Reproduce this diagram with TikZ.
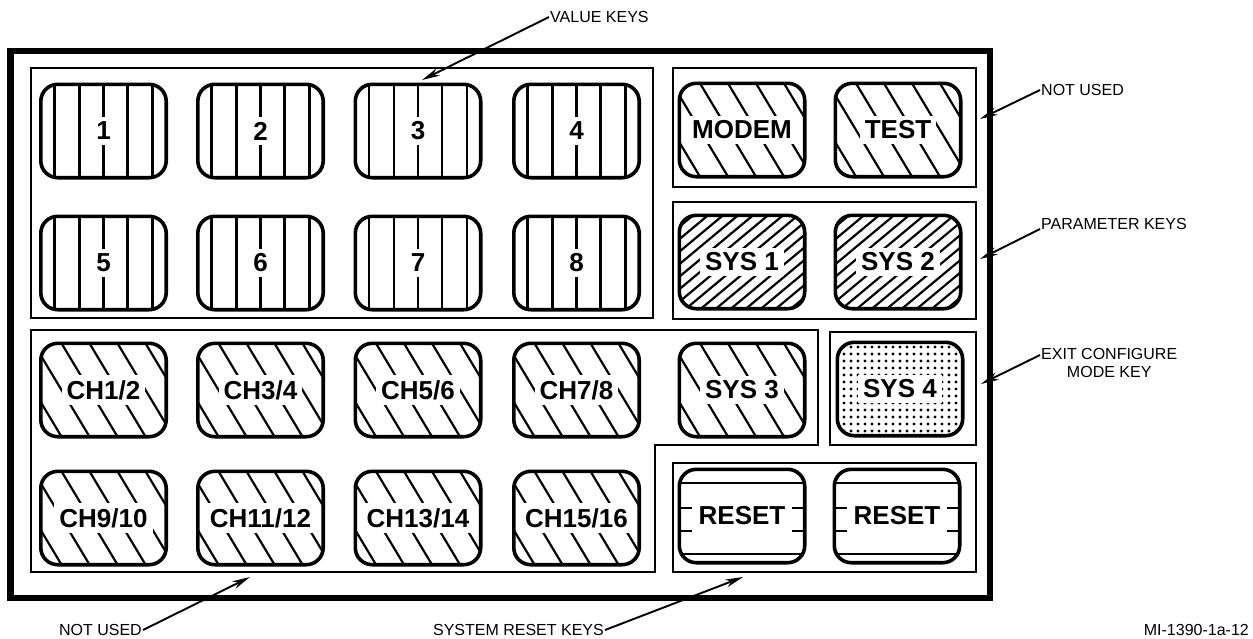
\documentclass[tikz,border=0pt]{standalone}
\usepackage{fontspec}
\setmainfont{Liberation Sans}
\usetikzlibrary{arrows.meta}
\tikzset{
  frame/.style={line width=6.5pt},
  panel/.style={line width=2.2pt},
  keybox/.style={rectangle, minimum width=125pt, minimum height=93pt, inner sep=0pt},
  keyline/.style={line width=3.6pt, rounded corners=17pt},
  hatch/.style={line width=2.2pt},
  keytext/.style={font=\fontsize{26}{28}\selectfont\bfseries, fill=white, inner sep=5pt},
  lbl/.style={font=\fontsize{16}{18}\selectfont, inner sep=1pt},
  arr/.style={line width=1.9pt, -{Stealth[length=18pt,width=8pt]}},
}
\newcommand{\hatchV}[2]{\foreach \k in {-49,-24,0,24,49}{\draw[hatch] (#1+\k,#2-60) -- (#1+\k,#2+60);}}
\newcommand{\hatchB}[2]{\foreach \k in {-154,-126,...,182}{\draw[hatch] (#1+\k-36,#2-60) -- (#1+\k+36,#2+60);}}
\newcommand{\hatchS}[2]{\foreach \k in {-150,-135,...,150}{\draw[hatch] (#1+\k+72,#2-60) -- (#1+\k-72,#2+60);}}
\newcommand{\dotsP}[2]{\foreach \i in {-63,-56,...,63}{\foreach \j in {-49,-42,...,49}{\fill (#1+\i,#2+\j) circle (1.7pt);}}}
\newcommand{\resetP}[2]{%
  \draw[hatch] (#1-70,#2-33) -- (#1+70,#2-33);
  \draw[hatch] (#1-70,#2+38) -- (#1+70,#2+38);
  \foreach \s in {-1,1}{%
    \draw[hatch] (#1+\s*62.5,#2-8) -- (#1+\s*50,#2-8);
    \draw[hatch] (#1+\s*62.5,#2+15) -- (#1+\s*50,#2+15);}}
\newcommand{\kbkey}[5]{%
  \node[keybox] (#1) at (#2,#3) {};
  \begin{scope}
    \clip[rounded corners=17pt] (#1.south west) rectangle (#1.north east);
    #4{#2}{#3}
  \end{scope}
  \draw[keyline] (#1.south west) rectangle (#1.north east);
  \node[keytext] (#1t) at (#1) {#5};
}
\begin{document}
\begin{tikzpicture}[x=1pt,y=-1pt]
\useasboundingbox (0,0) rectangle (1253,638);
% outer frame
\draw[frame] (10.5,51) rectangle (990,598);
% panels
\draw[panel] (31,68) rectangle (653,318);
\draw[panel] (31,330) -- (818,330) -- (818,445) -- (655,445) -- (655,572) -- (31,572) -- cycle;
\draw[panel] (673,68) rectangle (976,187);
\draw[panel] (673,202) rectangle (976,319);
\draw[panel] (830,332) rectangle (976,445);
\draw[panel] (673,463) rectangle (976,572);
% value keys
\kbkey{k1}{103.5}{131}{\hatchV}{1}
\kbkey{k2}{260.5}{131}{\hatchV}{2}
\kbkey{k3}{418}{131}{\hatchV}{3}
\kbkey{k4}{576.5}{131}{\hatchV}{4}
\kbkey{k5}{103.5}{263}{\hatchV}{5}
\kbkey{k6}{260.5}{263}{\hatchV}{6}
\kbkey{k7}{418}{263}{\hatchV}{7}
\kbkey{k8}{576.5}{263}{\hatchV}{8}
% channel keys
\kbkey{c1}{103.5}{390}{\hatchB}{CH1/2}
\kbkey{c2}{260.5}{390}{\hatchB}{CH3/4}
\kbkey{c3}{418}{390}{\hatchB}{CH5/6}
\kbkey{c4}{576.5}{390}{\hatchB}{CH7/8}
\kbkey{c5}{103.5}{518}{\hatchB}{CH9/10}
\kbkey{c6}{260.5}{518}{\hatchB}{CH11/12}
\kbkey{c7}{418}{518}{\hatchB}{CH13/14}
\kbkey{c8}{576.5}{518}{\hatchB}{CH15/16}
% right keys
\kbkey{modem}{742}{130}{\hatchB}{MODEM}
\kbkey{test}{898}{130}{\hatchB}{TEST}
\kbkey{sys1}{742}{262}{\hatchS}{SYS 1}
\kbkey{sys2}{898}{262}{\hatchS}{SYS 2}
\kbkey{sys3}{742}{390}{\hatchB}{SYS 3}
\kbkey{sys4}{900}{389}{\dotsP}{SYS 4}
\kbkey{rst1}{742}{516}{\resetP}{RESET}
\kbkey{rst2}{897}{516}{\resetP}{RESET}
% labels and arrows
\node[lbl, anchor=west] (lval) at (549,17) {VALUE KEYS};
\coordinate (tval) at (422,80);
\draw[arr] (lval.west) -- (tval);
\node[lbl, anchor=west] (lnu) at (1040,90) {NOT USED};
\coordinate (tnu) at (980,119);
\draw[arr] (lnu.west) -- (tnu);
\node[lbl, anchor=west] (lpar) at (1040,224) {PARAMETER KEYS};
\coordinate (tpar) at (980,259);
\draw[arr] ([yshift=-5pt]lpar.west) -- (tpar);
\node[lbl, anchor=north west, align=center] (lexit) at (1040,347) {EXIT CONFIGURE\\MODE KEY};
\coordinate (texit) at (981,384);
\draw[arr] ([yshift=-8pt]lexit.north west) -- (texit);
\node[lbl, anchor=east] (lnu2) at (143,630) {NOT USED};
\coordinate (tnu2) at (250,577);
\draw[arr] (lnu2.east) -- (tnu2);
\node[lbl, anchor=east] (lsr) at (605,630) {SYSTEM RESET KEYS};
\coordinate (tsr) at (743,577);
\draw[arr] (lsr.east) -- (tsr);
\node[lbl, anchor=east] (lmi) at (1250,630) {MI-1390-1a-12};
\end{tikzpicture}
\end{document}
